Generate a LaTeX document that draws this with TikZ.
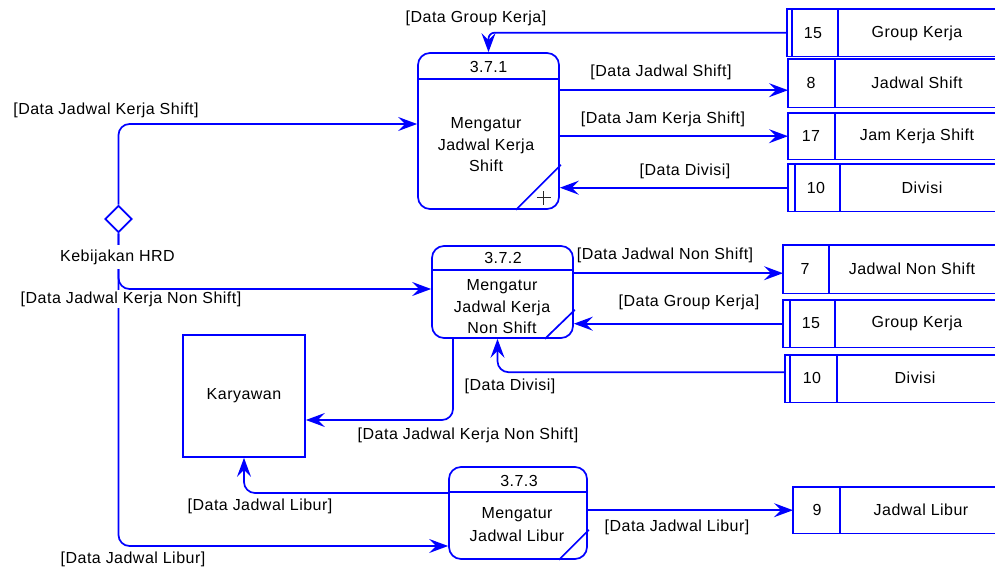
\documentclass[tikz,border=0pt]{standalone}
\usepackage{fontspec}
\setmainfont{Liberation Sans}[LetterSpace=3]
\usetikzlibrary{arrows.meta,shapes.geometric,calc}
\definecolor{dfdblue}{RGB}{0,0,255}
\begin{document}
\begin{tikzpicture}[x=1pt,y=-1pt,
  every node/.style={font=\fontsize{16}{21.5}\selectfont, text=black},
  line/.style={draw=dfdblue, line width=1.7pt},
  thinline/.style={draw=dfdblue, line width=1.5pt},
  flow/.style={line, rounded corners=11pt, -{Stealth[length=19pt,width=14pt,inset=7pt]}},
  proc/.style={line, rounded corners=12pt, inner sep=0pt},
  storeframe/.style={inner sep=0pt, anchor=north west},
  body/.style={align=center, inner sep=0pt},
  lbl/.style={inner sep=1pt},
  cover/.style={fill=white, inner xsep=1pt, inner ysep=5pt}
]
\useasboundingbox[fill=white] (0,0) rectangle (995,572);

% processes
\node[proc, minimum width=141pt, minimum height=156pt] (p1) at (488.5,131) {};
\node[proc, minimum width=141pt, minimum height=92pt] (p2) at (502.5,292) {};
\node[proc, minimum width=138pt, minimum height=92pt] (p3) at (518,513) {};
\draw[line] ([yshift=-27pt]p1.north west) -- ([yshift=-27pt]p1.north east);
\draw[line] ([yshift=-25pt]p2.north west) -- ([yshift=-25pt]p2.north east);
\draw[line] ([yshift=-26pt]p3.north west) -- ([yshift=-26pt]p3.north east);
\draw[line] ([xshift=-44pt]p1.south east) -- ([xshift=1pt,yshift=45pt]p1.south east);
\draw[line] ([xshift=-29pt]p2.south east) -- ([xshift=1pt,yshift=29pt]p2.south east);
\draw[line] ([xshift=-29pt]p3.south east) -- ([xshift=1pt,yshift=30pt]p3.south east);
\coordinate (plusc) at ([xshift=-16pt,yshift=12pt]p1.south east);
\draw[black!85, line width=1pt] ([xshift=-7pt]plusc) -- ([xshift=7pt]plusc)
  ([yshift=-7pt]plusc) -- ([yshift=7pt]plusc);
\node (p1id) at (488.5,67) {3.7.1};
\node[body] (p1txt) at (486,145) {Mengatur\\Jadwal Kerja\\Shift};
\node (p2id) at (503,258) {3.7.2};
\node[body] (p2txt) at (502,307) {Mengatur\\Jadwal Kerja\\Non Shift};
\node (p3id) at (519,481) {3.7.3};
\node[body, font=\fontsize{16}{23}\selectfont] (p3txt) at (517,525) {Mengatur\\Jadwal Libur};

% external entity
\node[line, minimum width=122pt, minimum height=122pt, inner sep=0pt] (kar) at (244,396) {Karyawan};

% decision
\node[line, diamond, aspect=1, minimum width=27pt, minimum height=27pt, inner sep=0pt] (hrd) at (118.5,219) {};

% data stores
\node[storeframe, minimum width=208pt, minimum height=47pt] (sGK1) at (787,9) {};
\node[storeframe, minimum width=207pt, minimum height=48pt] (sJS) at (788,59) {};
\node[storeframe, minimum width=207pt, minimum height=46pt] (sJKS) at (788,113) {};
\node[storeframe, minimum width=207pt, minimum height=47pt] (sDiv1) at (788,164) {};
\node[storeframe, minimum width=212pt, minimum height=48pt] (sJNS) at (783,245) {};
\node[storeframe, minimum width=212pt, minimum height=47pt] (sGK2) at (783,300) {};
\node[storeframe, minimum width=210pt, minimum height=47pt] (sDiv2) at (785,355) {};
\node[storeframe, minimum width=202pt, minimum height=46pt] (sJL) at (793,487) {};
\foreach \s/\d in {sGK1/51, sJS/47, sJKS/47, sDiv1/52, sJNS/46, sGK2/52, sDiv2/52, sJL/47} {
  \draw[thinline] (\s.north east) -- (\s.north west) -- (\s.south west) -- (\s.south east);
  \draw[thinline] ([xshift=\d pt]\s.north west) -- ([xshift=\d pt]\s.south west);
}
\foreach \s/\d in {sGK1/5, sDiv1/7, sGK2/7, sDiv2/5} {
  \draw[thinline] ([xshift=\d pt]\s.north west) -- ([xshift=\d pt]\s.south west);
}
\node (n15a) at (813,33) {15};
\node (t15a) at (917,33) {Group Kerja};
\node (n8) at (811,83) {8};
\node (t8) at (917,83) {Jadwal Shift};
\node (n17) at (811,136) {17};
\node (t17) at (917,136) {Jam Kerja Shift};
\node (n10a) at (816,188) {10};
\node (t10a) at (922,188) {Divisi};
\node (n7) at (805,269) {7};
\node (t7) at (912,269) {Jadwal Non Shift};
\node (n15b) at (811,323) {15};
\node (t15b) at (917,323) {Group Kerja};
\node (n10b) at (812,378) {10};
\node (t10b) at (915,378) {Divisi};
\node (n9) at (817,510) {9};
\node (t9) at (921,510) {Jadwal Libur};

% connectors
\coordinate (jsin) at ([yshift=-7pt]sJS.west);
\coordinate (jnsin) at ([yshift=-4pt]sJNS.west);
\draw[flow, rounded corners=6pt] (sGK1.west) -| (p1.north);
\draw[flow] (p1.east |- jsin) -- (jsin);
\draw[flow] (p1.east |- sJKS.west) -- (sJKS.west);
\draw[flow] (sDiv1.west) -- (p1.east |- sDiv1.west);
\draw[flow] (hrd.north) |- ([yshift=7pt]p1.west);
\draw[flow] (hrd.south) |- ([yshift=3pt]p2.west);
\draw[flow] (hrd.south) |- ([yshift=-33pt]p3.west);
\draw[flow] (p2.east |- jnsin) -- (jnsin);
\draw[flow] (sGK2.west) -- (p2.east |- sGK2.west);
\draw[flow] ([yshift=6.5pt]sDiv2.west) -| ([xshift=-5pt]p2.south);
\draw[flow] ([xshift=-49.5pt]p2.south) |- ([yshift=-24pt]kar.east);
\draw[flow] ([yshift=20pt]p3.west) -| (kar.south);
\draw[flow] (p3.east |- sJL.west) -- (sJL.west);

% labels
\node[lbl] (l1) at (476,18) {[Data Group Kerja]};
\node[lbl] (l2) at (661,72) {[Data Jadwal Shift]};
\node[lbl] (l3) at (663,119) {[Data Jam Kerja Shift]};
\node[lbl] (l4) at (685,171) {[Data Divisi]};
\node[lbl] (l5) at (106,110) {[Data Jadwal Kerja Shift]};
\node[cover] (hrdl) at (117.5,257) {Kebijakan HRD};
\node[cover, inner ysep=2pt] (l6) at (131,299) {[Data Jadwal Kerja Non Shift]};
\node[lbl] (l7) at (665,255) {[Data Jadwal Non Shift]};
\node[lbl] (l8) at (689,302) {[Data Group Kerja]};
\node[lbl] (l9) at (510,386) {[Data Divisi]};
\node[lbl] (l10) at (468,435) {[Data Jadwal Kerja Non Shift]};
\node[lbl] (l11) at (260,506) {[Data Jadwal Libur]};
\node[lbl] (l12) at (677,527) {[Data Jadwal Libur]};
\node[lbl] (l13) at (133,559) {[Data Jadwal Libur]};
\end{tikzpicture}
\end{document}
